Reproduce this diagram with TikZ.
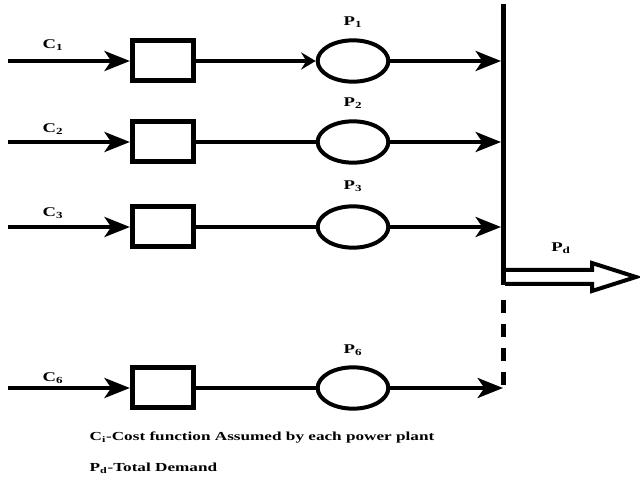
\documentclass[tikz,border=0pt]{standalone}
\usepackage{fontspec}
\setmainfont{Liberation Serif}
\newfontfamily\widefont[FakeStretch=1.4]{Liberation Serif}
\usetikzlibrary{arrows.meta,shapes.geometric}

\tikzset{
  cost/.style={draw,line width=3.75pt,minimum width=46pt,minimum height=30pt,inner sep=0pt},
  plant/.style={draw,ellipse,line width=3pt,minimum width=53pt,minimum height=31pt,inner sep=0pt},
  feed/.style={line width=3pt,-{Stealth[length=19pt,width=15pt,inset=5pt]}},
  link/.style={line width=2.3pt},
  lbl/.style={font=\widefont\bfseries\fontsize{10}{12}\selectfont},
  note/.style={anchor=west,font=\widefont\bfseries\fontsize{9.2}{11}\selectfont},
}

\begin{document}
\begin{tikzpicture}[x=.75pt,y=-.75pt]
\useasboundingbox (0,0) rectangle (640,481);

% bus bar
\coordinate (bustop) at (503,  4);
\coordinate (busmid) at (503,285);
\coordinate (busend) at (503,388);
\draw[line width=3.75pt] (bustop) -- (busmid);
\draw[line width=3.75pt,dash pattern=on 9.75pt off 8.25pt] (503,300) -- (busend);

% plants
\path
    (  8, 61) coordinate (in1)
    (163, 61) node [cost]  (box1) {}
    (353, 61) node [plant] (gen1) {}
    (  8,142) coordinate (in2)
    (163,142) node [cost]  (box2) {}
    (353,142) node [plant] (gen2) {}
    (  8,227) coordinate (in3)
    (163,227) node [cost]  (box3) {}
    (353,227) node [plant] (gen3) {}
    (  8,388) coordinate (in6)
    (163,388) node [cost]  (box6) {}
    (353,388) node [plant] (gen6) {};

\draw[feed] (in1) -- (box1.west);
\draw[feed] (in2) -- (box2.west);
\draw[feed] (in3) -- (box3.west);
\draw[feed] (in6) -- (box6.west);

\draw[link,-{Stealth[length=11pt,width=13pt,inset=4pt]}] (box1.east) -- (gen1.west);
\draw[link] (box2.east) -- (gen2.west);
\draw[link] (box3.east) -- (gen3.west);
\draw[link] (box6.east) -- (gen6.west);

\draw[feed,shorten >=1.5pt] (gen1.east) -- (gen1 -| busmid);
\draw[feed,shorten >=1.5pt] (gen2.east) -- (gen2 -| busmid);
\draw[feed,shorten >=1.5pt] (gen3.east) -- (gen3 -| busmid);
\draw[feed] (gen6.east) -- (gen6 -| busmid);

% total demand
\coordinate (pdfoot) at (505,277);
\draw[line width=3pt]
      (pdfoot) ++(0,-7) -- ++(87,0) -- ++(0,-7) -- ++(44,14)
    -- ++(-44,14) -- ++(0,-7) -- ++(-87,0);

\path
    ( 53, 45) node [lbl] (c1) {C\textsubscript{1}}
    ( 53,129) node [lbl] (c2) {C\textsubscript{2}}
    ( 53,213) node [lbl] (c3) {C\textsubscript{3}}
    ( 53,378) node [lbl] (c6) {C\textsubscript{6}}
    (353, 22) node [lbl] (p1) {P\textsubscript{1}}
    (353,103) node [lbl] (p2) {P\textsubscript{2}}
    (353,186) node [lbl] (p3) {P\textsubscript{3}}
    (353,350) node [lbl] (p6) {P\textsubscript{6}}
    (561,248) node [lbl] (pd) {P\textsubscript{d}};

\path
    ( 85,438) node [note] {C\textsubscript{i}-Cost function Assumed by each power plant}
    ( 85,468) node [note] {P\textsubscript{d}-Total Demand};
\end{tikzpicture}
\end{document}
